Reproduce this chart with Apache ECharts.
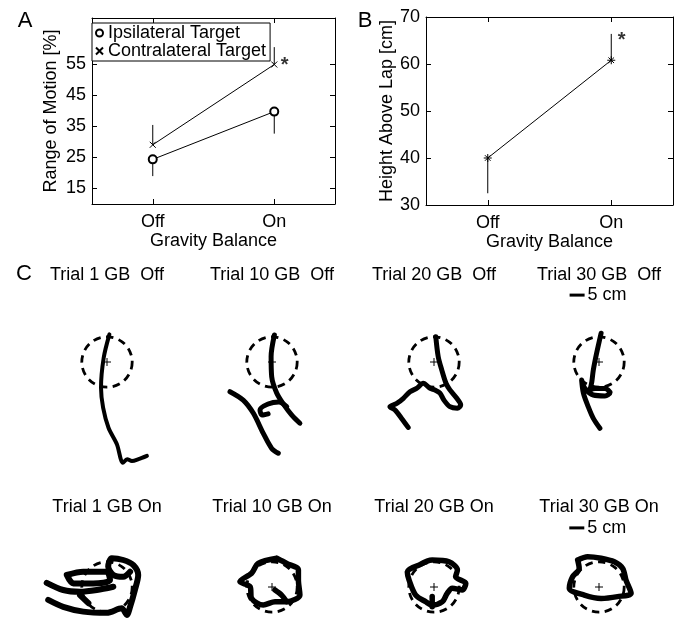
<!DOCTYPE html>
<html><head><meta charset="utf-8">
<script src="https://cdn.jsdelivr.net/npm/echarts@6/dist/echarts.min.js"></script>
<style>html,body{margin:0;padding:0;background:#fff}#c{width:680px;height:624px}</style>
</head><body><div id="c"></div>
<script>
const FONT = "'Liberation Sans', Arial, Helvetica, sans-serif";

// ---------- Panel A / B data ----------
const gbCategories = ['Off', 'On'];
const ipsiMean = [24.4, 39.8];
const ipsiErrEnd = [19.0, 32.7];
const contraMean = [29.1, 55.0];
const contraErrEnd = [35.5, 60.6];
const aTicks = [15, 25, 35, 45, 55];
const heightMean = [40.0, 60.8];
const heightErrEnd = [32.5, 66.4];
const bTicks = [30, 40, 50, 60, 70];
const aStar = [1, 54.7];
const bStar = [1, 65.1];

// ---------- Panel C data (hand positions, cm relative to target) ----------
const titlesOff = ['Trial 1 GB  Off', 'Trial 10 GB  Off', 'Trial 20 GB  Off', 'Trial 30 GB  Off'];
const titlesOn = ['Trial 1 GB On', 'Trial 10 GB On', 'Trial 20 GB On', 'Trial 30 GB On'];
const targetRadius = 8.4;
const scaleBarLength = 5;

const trial1Off = [
  [[0.8,9.2],[-1.1,1.4],[-2.0,-8.6],[-1.3,-15.2],[0.5,-21.9],[3.3,-27.4],[5.3,-33.6],[6.7,-32.4],[8.3,-33.0],[10.5,-32.4],[13.3,-31.3]]
];
const trial10Off = [
  [[0.8,9.0],[-0.3,1.8],[-0.1,-4.9],[1.6,-10.4],[4.0,-14.3],[6.6,-17.7],[9.3,-20.4]],
  [[4.9,-14.9],[2.3,-13.3],[-1.3,-14.0],[-4.0,-16.0],[-3.3,-17.7],[-1.3,-17.3]],
  [[-14.0,-9.9],[-9.6,-12.7],[-6.2,-17.1],[-2.9,-23.8],[-0.1,-28.8],[2.1,-30.4]]
];
const trial20Off = [
  [[0.6,8.4],[1.4,1.8],[2.6,-2.7],[4.0,-7.1],[5.3,-9.3],[7.6,-12.1],[8.9,-14.3],[7.8,-15.4],[5.3,-14.9],[3.3,-12.7],[2.0,-10.4],[0.3,-9.3],[-1.3,-8.8],[-3.6,-7.1],[-5.8,-8.8],[-8.0,-9.9],[-10.2,-12.1],[-12.4,-13.8],[-14.7,-14.9],[-13.0,-16.0],[-10.8,-18.8],[-8.6,-21.8]]
];
const trial30Off = [
  [[0.7,9.6],[-0.8,2.9],[-1.9,-2.7],[-2.4,-6.6],[-3.0,-9.3],[-1.3,-8.8],[2.0,-8.8],[3.7,-10.2],[2.0,-11.3],[-1.9,-11.0],[-4.7,-8.8],[-5.8,-6.0],[-5.2,-10.4],[-3.6,-14.9],[-1.9,-18.8],[0.3,-22.1]]
];
const trial1On = [
  [[-19.6,-4.3],[-14.6,-6.6],[-7.9,-8.2],[-0.1,-8.6],[4.9,-7.1],[6.6,-9.3],[7.7,-6.6],[9.3,-1.0],[10.4,4.0],[8.8,7.3],[5.4,9.0],[1.6,9.6],[0.4,6.8],[2.1,4.0],[5.4,3.4],[7.7,5.1]],
  [[-20.1,1.4],[-14.6,-1.0],[-9.0,-1.6],[-3.4,-1.0],[2.1,0.1]],
  [[-13.4,4.0],[-7.9,5.1],[-0.1,5.1],[1.0,2.3],[-4.6,1.2],[-11.2,1.2],[-13.4,4.0]],
  [[-9.0,-2.7],[-6.2,-5.4]]
];
const trial10On = [
  [[1.6,9.6],[-4.6,7.9],[-6.8,4.6],[-10.7,1.8],[-7.3,0.1],[-6.8,-3.8],[-2.9,-6.0],[1.0,-4.9],[4.9,-4.9],[9.3,-2.7],[8.8,2.3],[8.8,5.7],[4.9,7.9],[1.6,9.6]],
  [[1.0,-1.0],[3.2,-2.7],[4.9,-4.9]]
];
const trial20On = [
  [[-5.0,7.3],[-0.6,9.0],[5.0,8.4],[7.8,5.7],[7.2,3.4],[10.6,1.2],[9.4,-1.0],[6.1,-0.4],[4.4,-2.1],[2.8,-4.9],[-0.6,-6.0],[-2.8,-4.9],[-6.1,-2.7],[-8.3,2.3],[-8.9,5.1],[-5.0,7.3]],
  [[-0.6,-3.2],[-0.6,-6.6]]
];
const trial30On = [
  [[-7.1,9.0],[-3.8,10.1],[0.7,9.6],[5.1,8.4],[7.9,6.2],[9.0,2.3],[10.7,-2.1],[6.2,-3.2],[0.7,-3.8],[-4.9,-2.7],[-9.9,-0.4],[-8.8,3.4],[-6.6,6.2],[-7.1,9.0]]
];
const trajOff = [trial1Off, trial10Off, trial20Off, trial30Off];
const trajOn = [trial1On, trial10On, trial20On, trial30On];
const scaleBarOff = [-9.8, 22.3];
const scaleBarOn = [-9.9, 19.7];

// ---------- layout ----------
const colX = [107, 272, 434, 599];
const row1Y = 362, row2Y = 587;
const PX = 3; // px per cm
const widthsOff = [4, 5, 5, 5];
const widthsOn = [6, 5.5, 5.5, 5.5];

const XPATH = 'path://M0,0L10,10M10,0L0,10';
const STARPATH = 'path://M5,0L5,10M0,5L10,5M1.5,1.5L8.5,8.5M8.5,1.5L1.5,8.5';

const txt = (size) => ({color:'#000', fontSize:size, fontFamily:FONT});

function catAxis(gi, pos, showLabel, name) {
  return {type:'category', gridIndex:gi, position:pos, data:gbCategories, boundaryGap:true,
    axisLine:{show:true, onZero:false, lineStyle:{color:'#000', width:1}},
    axisTick:{show:true, inside:true, alignWithLabel:true, length:5, lineStyle:{color:'#000'}},
    axisLabel:Object.assign({show:showLabel, margin:9}, txt(18)),
    splitLine:{show:false},
    name:name || '', nameLocation:'middle', nameGap:26, nameTextStyle:txt(18)};
}
function valAxis(gi, pos, min, max, ticks, showLabel, name, gap) {
  return {type:'value', gridIndex:gi, position:pos, min:min, max:max,
    axisLine:{show:true, onZero:false, lineStyle:{color:'#000', width:1}},
    axisTick:{show:true, inside:true, length:5, customValues:ticks, lineStyle:{color:'#000'}},
    axisLabel:Object.assign({show:showLabel, customValues:ticks, margin:6}, txt(18)),
    splitLine:{show:false},
    name:name || '', nameLocation:'middle', nameGap:gap || 30, nameTextStyle:txt(18)};
}

const grid = [
  {left:92, top:18, width:243, height:186},
  {left:426, top:17, width:247, height:188}
];
const xAxis = [
  catAxis(0, 'bottom', true, 'Gravity Balance'), catAxis(0, 'top', false),
  catAxis(1, 'bottom', true, 'Gravity Balance'), catAxis(1, 'top', false)
];
const yAxis = [
  valAxis(0, 'left', 10, 70, aTicks, true, 'Range of Motion [%]', 32),
  valAxis(0, 'right', 10, 70, aTicks, false),
  valAxis(1, 'left', 30, 70, bTicks, true, 'Height Above Lap [cm]', 30),
  valAxis(1, 'right', 30, 70, bTicks, false)
];

function errRender(params, api) {
  const p1 = api.coord([api.value(0), api.value(1)]);
  const p2 = api.coord([api.value(0), api.value(2)]);
  return {type:'line', shape:{x1:p1[0], y1:p1[1], x2:p2[0], y2:p2[1]}, style:{stroke:'#000', lineWidth:1}};
}
function errData(mean, end) { return mean.map((m, i) => [i, m, end[i]]); }

const series = [
  {type:'custom', name:'errIpsi', xAxisIndex:0, yAxisIndex:0, renderItem:errRender, encode:{x:0, y:[1,2]}, data:errData(ipsiMean, ipsiErrEnd), silent:true},
  {type:'custom', name:'errContra', xAxisIndex:0, yAxisIndex:0, renderItem:errRender, encode:{x:0, y:[1,2]}, data:errData(contraMean, contraErrEnd), silent:true},
  {type:'line', name:'Ipsilateral Target', xAxisIndex:0, yAxisIndex:0, data:ipsiMean, symbol:'emptyCircle', symbolSize:8,
    lineStyle:{color:'#000', width:1}, itemStyle:{color:'#000', borderColor:'#000', borderWidth:1}},
  {type:'line', name:'Contralateral Target', xAxisIndex:0, yAxisIndex:0, data:contraMean, symbol:XPATH, symbolSize:6,
    lineStyle:{color:'#000', width:1}, itemStyle:{color:'#000', borderColor:'#000', borderWidth:1}},
  {type:'scatter', xAxisIndex:0, yAxisIndex:0, data:[aStar], symbolSize:1, itemStyle:{color:'rgba(0,0,0,0)'},
    label:{show:true, position:'right', distance:6, formatter:'*', color:'#000', fontSize:20, fontWeight:'bold', fontFamily:FONT}, silent:true},
  {type:'custom', name:'errHeight', xAxisIndex:2, yAxisIndex:2, renderItem:errRender, encode:{x:0, y:[1,2]}, data:errData(heightMean, heightErrEnd), silent:true},
  {type:'line', name:'Height', xAxisIndex:2, yAxisIndex:2, data:heightMean, symbol:STARPATH, symbolSize:8,
    lineStyle:{color:'#000', width:1}, itemStyle:{color:'#000', borderColor:'#000', borderWidth:1}},
  {type:'scatter', xAxisIndex:2, yAxisIndex:2, data:[bStar], symbolSize:1, itemStyle:{color:'rgba(0,0,0,0)'},
    label:{show:true, position:'right', distance:6, formatter:'*', color:'#000', fontSize:20, fontWeight:'bold', fontFamily:FONT}, silent:true}
];

function circleRender(params, api) {
  const c = api.coord([api.value(0), api.value(1)]);
  const r = api.size([api.value(2), 0])[0];
  return {type:'circle', shape:{cx:c[0], cy:c[1], r:r}, style:{fill:'none', stroke:'#000', lineWidth:2.8, lineDash:[7.5,5.5]}};
}
function plusRender(params, api) {
  const c = api.coord([api.value(0), api.value(1)]);
  const h = 4;
  return {type:'group', children:[
    {type:'line', shape:{x1:c[0]-h, y1:c[1], x2:c[0]+h, y2:c[1]}, style:{stroke:'#000', lineWidth:1}},
    {type:'line', shape:{x1:c[0], y1:c[1]-h, x2:c[0], y2:c[1]+h}, style:{stroke:'#000', lineWidth:1}}
  ]};
}
function scaleRender(params, api) {
  const p1 = api.coord([api.value(0), api.value(1)]);
  const p2 = api.coord([api.value(0) + api.value(2), api.value(1)]);
  return {type:'group', children:[
    {type:'line', shape:{x1:p1[0], y1:p1[1], x2:p2[0], y2:p2[1]}, style:{stroke:'#000', lineWidth:3}},
    {type:'text', x:p2[0] + 3, y:p1[1], style:{text:api.value(2) + ' cm', fill:'#000', font:'18px ' + FONT,
      align:'left', verticalAlign:'middle', textAlign:'left', textVerticalAlign:'middle'}}
  ]};
}

const graphic = [];
function addText(x, y, text, size) {
  graphic.push({type:'text', x:x, y:y, silent:true, style:{text:text, fill:'#000', font:size + 'px ' + FONT,
    align:'center', verticalAlign:'middle', textAlign:'center', textVerticalAlign:'middle'}});
}
addText(25, 21, 'A', 22);
addText(365, 21, 'B', 22);
addText(24, 274, 'C', 22);

function addPanel(cx, cy, segs, yMin, yMax, top, height, title, titleY, scaleBar, lw) {
  const gi = grid.length;
  grid.push({left:cx - 75, top:top, width:150, height:height});
  xAxis.push({type:'value', gridIndex:gi, min:-25, max:25, show:false});
  yAxis.push({type:'value', gridIndex:gi, min:yMin, max:yMax, show:false});
  const ai = xAxis.length - 1;
  series.push({type:'custom', xAxisIndex:ai, yAxisIndex:ai, renderItem:circleRender, data:[[0, 0, targetRadius]], silent:true, clip:false});
  segs.forEach(seg => {
    series.push({type:'line', xAxisIndex:ai, yAxisIndex:ai, data:seg, showSymbol:false, symbol:'none', smooth:0.3,
      lineStyle:{color:'#000', width:lw, cap:'round', join:'round'}, silent:true, animation:false});
  });
  series.push({type:'custom', xAxisIndex:ai, yAxisIndex:ai, renderItem:plusRender, data:[[0, 0]], silent:true, z:5});
  if (scaleBar) {
    series.push({type:'custom', xAxisIndex:ai, yAxisIndex:ai, renderItem:scaleRender, data:[[scaleBar[0], scaleBar[1], scaleBarLength]], silent:true, clip:false});
  }
  addText(cx, titleY, title, 18);
}
for (let i = 0; i < 4; i++) {
  addPanel(colX[i], row1Y, trajOff[i], -40, 30, row1Y - 30 * PX, 70 * PX, titlesOff[i], 275, i === 3 ? scaleBarOff : null, widthsOff[i]);
  addPanel(colX[i], row2Y, trajOn[i], -12, 23, row2Y - 23 * PX, 35 * PX, titlesOn[i], 507, i === 3 ? scaleBarOn : null, widthsOn[i]);
}

const chart = echarts.init(document.getElementById('c'));
chart.setOption({
  animation:false,
  backgroundColor:'#fff',
  textStyle:{fontFamily:FONT},
  grid:grid, xAxis:xAxis, yAxis:yAxis, series:series, graphic:graphic,
  legend:{show:true, left:92, top:23, orient:'vertical', itemGap:0, itemWidth:7, itemHeight:7,
    padding:[1,4,1,3], borderColor:'#000', borderWidth:1, backgroundColor:'#fff',
    textStyle:txt(18), selectedMode:false,
    data:[{name:'Ipsilateral Target', icon:'emptyCircle'}, {name:'Contralateral Target', icon:XPATH}]}
});
</script></body></html>
